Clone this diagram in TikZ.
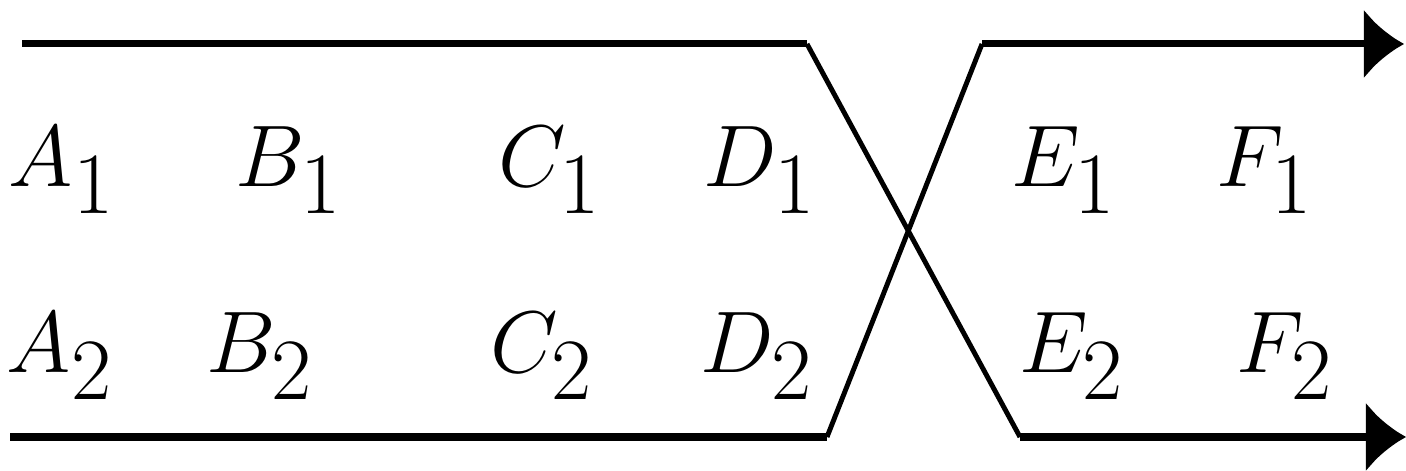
\documentclass[tikz,border=0pt]{standalone}
\usetikzlibrary{arrows.meta}
\begin{document}
\begin{tikzpicture}[x=0.01cm,y=-0.01cm,
  wire/.style={line width=2pt},
  slant/.style={line width=1.4pt},
  tipA/.style={-{Latex[length=4mm,width=7mm]}},
  lbl/.style={anchor=base, inner sep=0pt, font=\fontsize{33}{36}\selectfont}]
\useasboundingbox (0,0) rectangle (1406,471);
% route 1 (top-left to bottom-right)
\coordinate (t0) at (22,44);
\coordinate (t1) at (807,44);
\coordinate (t2) at (1020,437);
\coordinate (t3) at (1406,437);
% route 2 (bottom-left to top-right)
\coordinate (b0) at (10,437);
\coordinate (b1) at (827,437);
\coordinate (b2) at (982,44);
\coordinate (b3) at (1404,44);
\draw[wire] (t0) -- (t1);
\draw[slant] (t1) -- (t2);
\draw[wire,tipA] (t2) -- (t3);
\draw[wire] (b0) -- (b1);
\draw[slant] (b1) -- (b2);
\draw[wire,tipA] (b2) -- (b3);
% labels row 1
\node[lbl] (A1) at (62,187) {$A_1$};
\node[lbl] (B1) at (289,187) {$B_1$};
\node[lbl] (C1) at (550,187) {$C_1$};
\node[lbl] (D1) at (760,187) {$D_1$};
\node[lbl] (E1) at (1064,187) {$E_1$};
\node[lbl] (F1) at (1265,187) {$F_1$};
% labels row 2
\node[lbl] (A2) at (60,373) {$A_2$};
\node[lbl] (B2) at (260,373) {$B_2$};
\node[lbl] (C2) at (542,373) {$C_2$};
\node[lbl] (D2) at (757,373) {$D_2$};
\node[lbl] (E2) at (1072,373) {$E_2$};
\node[lbl] (F2) at (1285,373) {$F_2$};
\end{tikzpicture}
\end{document}
